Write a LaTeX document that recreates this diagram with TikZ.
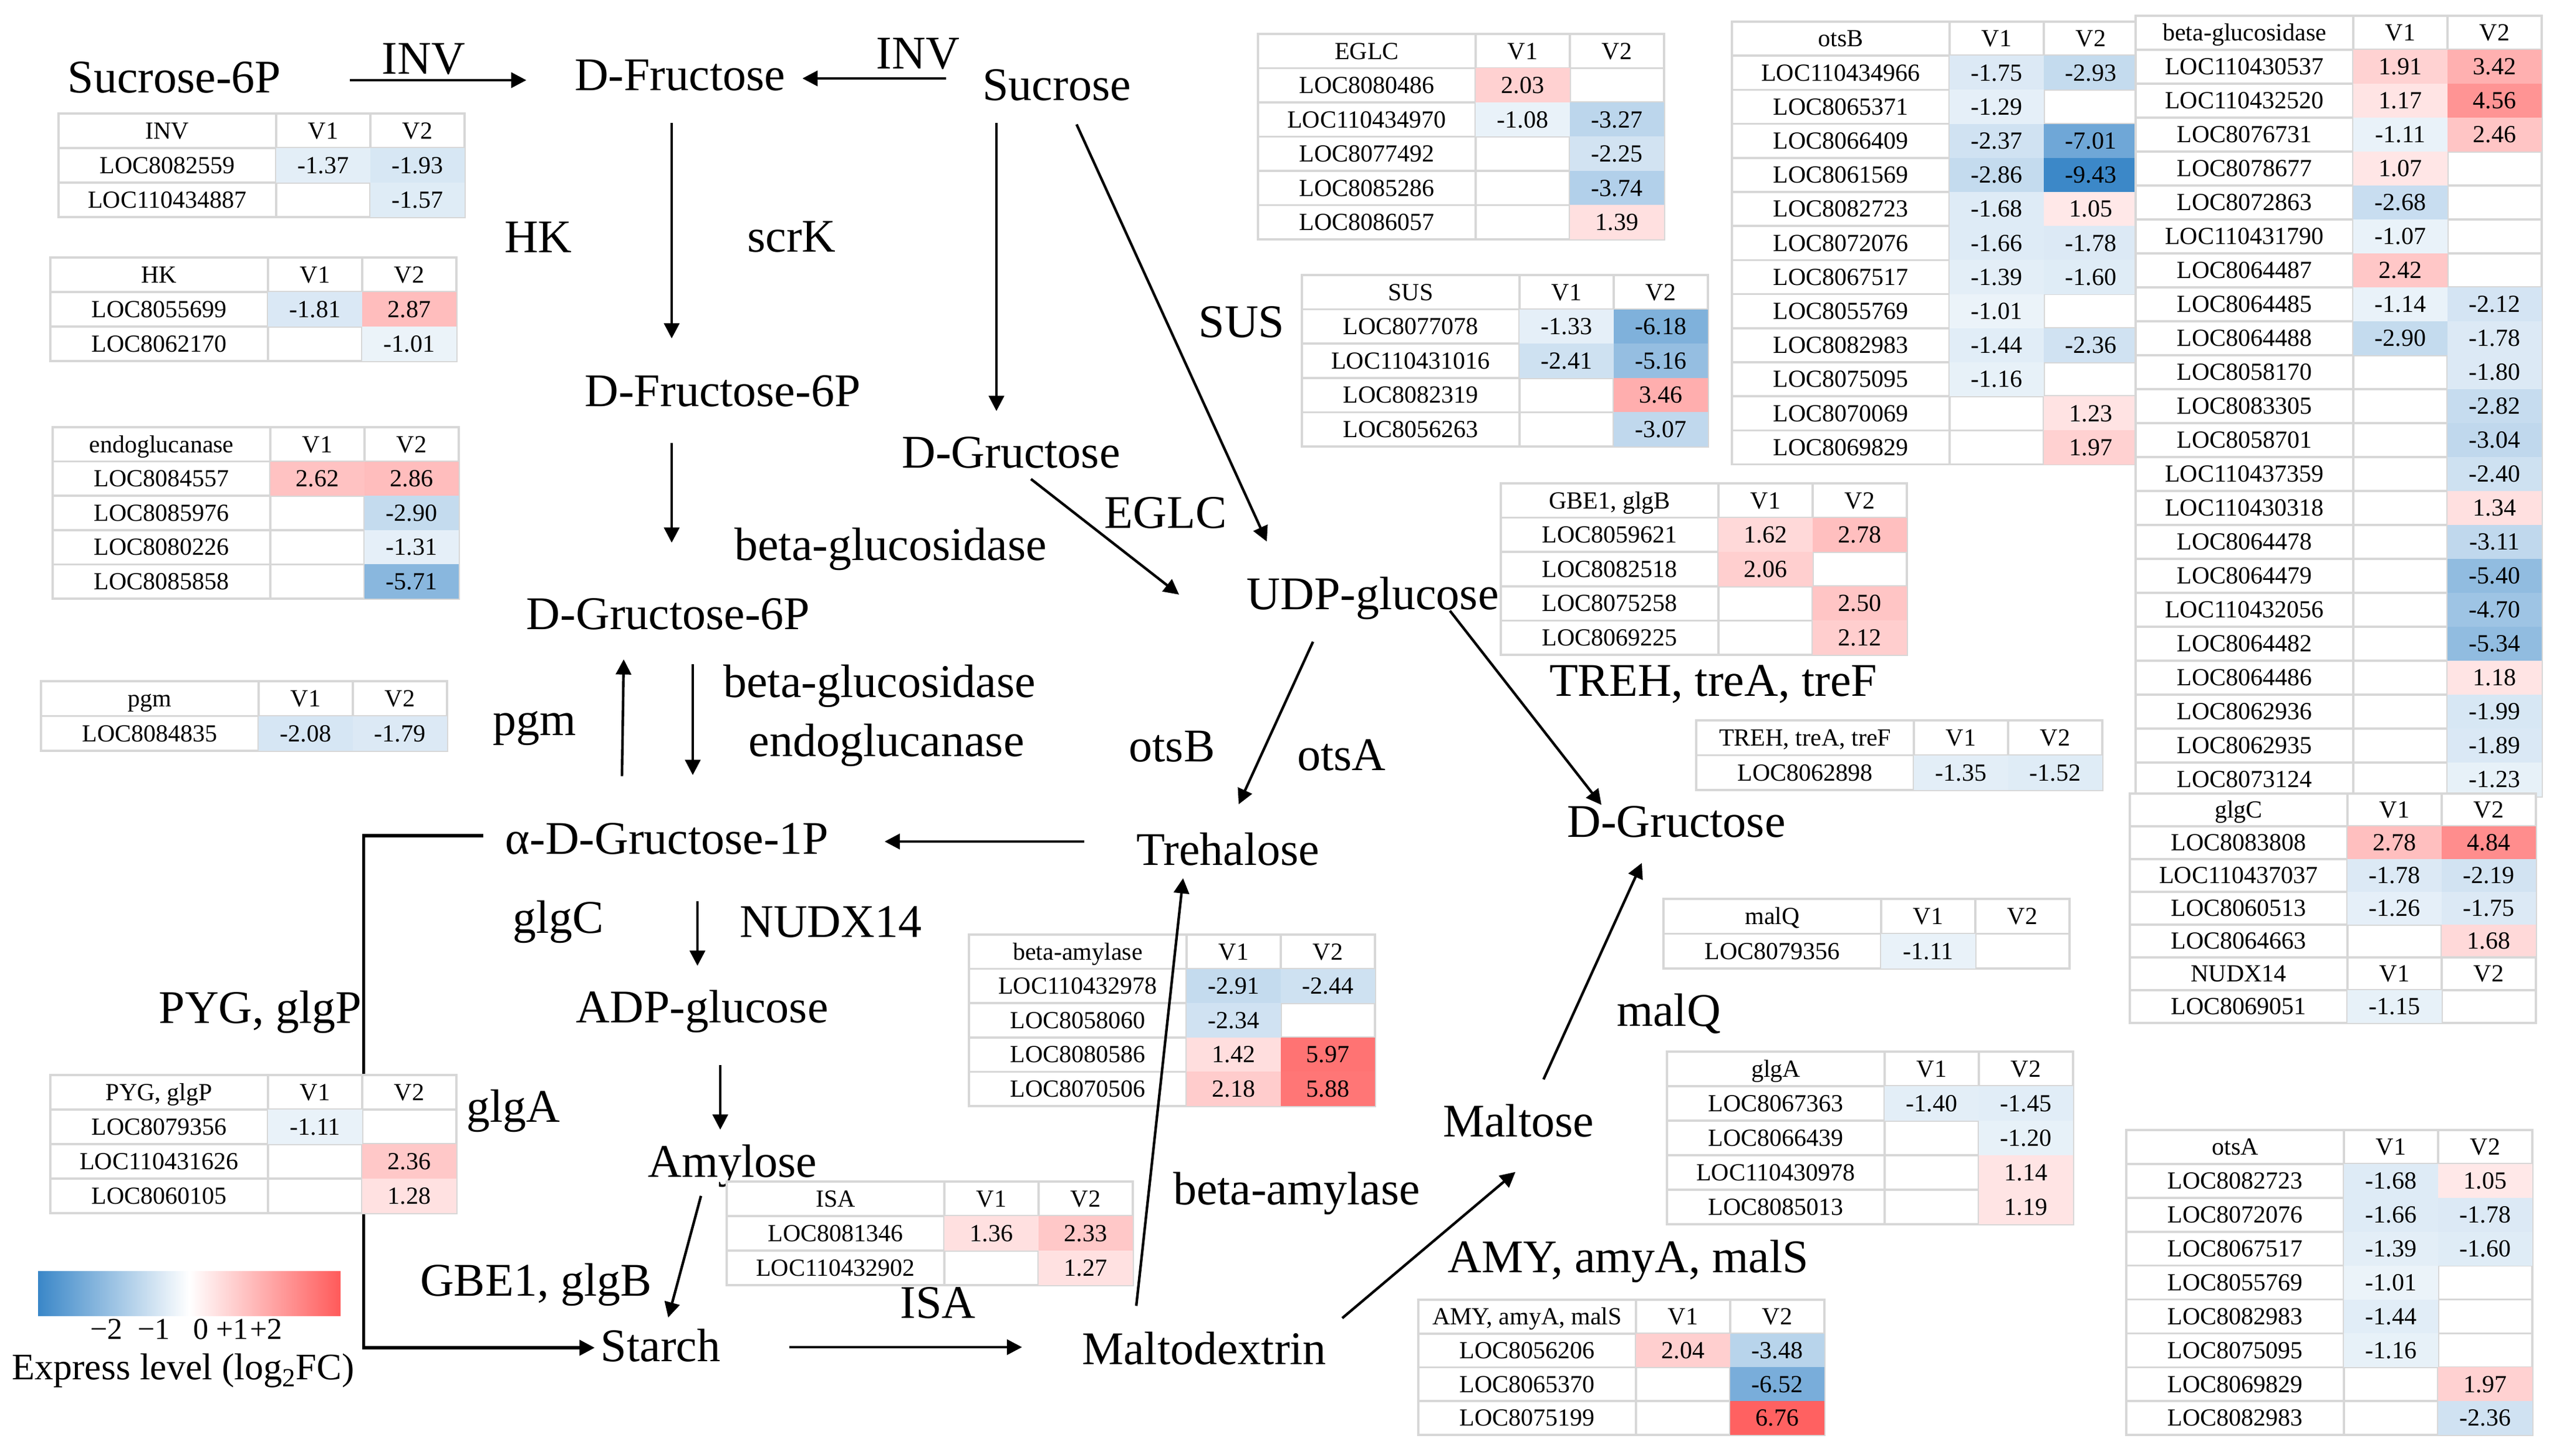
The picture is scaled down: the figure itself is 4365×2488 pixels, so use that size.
\documentclass[tikz,border=0pt]{standalone}
\usepackage{fontspec}
\setmainfont{Liberation Serif}
\usepackage{xcolor}
\definecolor{low_blue}{RGB}{58,135,200}
\definecolor{high_red}{RGB}{255,90,90}
\definecolor{grid_gray}{RGB}{215,215,215}
\usetikzlibrary{arrows.meta}

\tikzset{
  lbl/.style={font=\fontsize{40}{48}\selectfont, inner sep=0pt, text height=26.2pt, text depth=0pt},
  tabtxt/.style={font=\fontsize{21}{25}\selectfont, inner sep=0pt, text height=13.8pt, text depth=0pt},
  ticktxt/.style={font=\fontsize{26}{30}\selectfont, inner sep=0pt, text height=17pt, text depth=0pt},
  tabgrid/.style={draw=grid_gray, line width=1.8pt, fill=white},
  arr/.style={-{Triangle[length=13pt,width=13pt]}, line width=2.2pt},
}

% value cell: blue below zero, red above zero
\newcommand{\fillcell}[3]{%
  \expandafter\ifx\expandafter\relax#1\relax\else
    \pgfmathtruncatemacro\isneg{#1<0}%
    \ifnum\isneg=1
      \pgfmathtruncatemacro\pct{min(100,abs(#1)/9.5*100)}%
      \fill[low_blue!\pct!white] (#2,{#3}) rectangle ++(161,\rh);
    \else
      \pgfmathtruncatemacro\pct{min(100,abs(#1)/7*100)}%
      \fill[high_red!\pct!white] (#2,{#3}) rectangle ++(161,\rh);
    \fi
  \fi}

% #1 name, #2 x, #3 y of top left corner, #4 row height, #5 header, #6 gene/V1/V2 rows
\newcommand{\exprtable}[6]{%
\begin{scope}[shift={(#2,#3)}]
  \def\rh{#4}
  \draw[tabgrid] (0,0) rectangle (372,\rh) (372,0) rectangle (533,\rh) (533,0) rectangle (694,\rh);
  \node[tabtxt] (#1-h) at (186,{\rh/2}) {#5};
  \node[tabtxt] (#1-h1) at (452.5,{\rh/2}) {V1};
  \node[tabtxt] (#1-h2) at (613.5,{\rh/2}) {V2};
  \foreach \gene/\vone/\vtwo [count=\i] in {#6} {
    \draw[tabgrid] (0,{\i*\rh}) rectangle ++(372,\rh) (372,{\i*\rh}) rectangle ++(161,\rh) (533,{\i*\rh}) rectangle ++(161,\rh);
  }
  \foreach \gene/\vone/\vtwo [count=\i] in {#6} {
    \fillcell{\vone}{372}{\i*\rh}
    \fillcell{\vtwo}{533}{\i*\rh}
    \node[tabtxt] (#1-\i) at (186,{(\i+0.5)*\rh}) {\gene};
    \node[tabtxt] (#1-\i-a) at (452.5,{(\i+0.5)*\rh}) {\vone};
    \node[tabtxt] (#1-\i-b) at (613.5,{(\i+0.5)*\rh}) {\vtwo};
  }
\end{scope}}

\begin{document}
\begin{tikzpicture}[x=0.5pt, y=-0.5pt]
\fill[white] (0,0) rectangle (4365,2488);
\useasboundingbox (0,0) rectangle (4365,2488);

% metabolites
\node[lbl] (s6p) at (298,132) {Sucrose-6P};
\node[lbl] (dfru) at (1162,128) {D-Fructose};
\node[lbl] (sucr) at (1806,145) {Sucrose};
\node[lbl] (dfru6p) at (1235,668) {D-Fructose-6P};
\node[lbl] (dgru) at (1728,773) {D-Gructose};
\node[lbl] (dgru6p) at (1142,1049) {D-Gructose-6P};
\node[lbl] (udp) at (2346,1015) {UDP-glucose};
\node[lbl] (a1p) at (1140,1433) {α-D-Gructose-1P};
\node[lbl] (treh) at (2099,1452) {Trehalose};
\node[lbl] (dgrur) at (2865,1404) {D-Gructose};
\node[lbl] (adp) at (1200,1721) {ADP-glucose};
\node[lbl] (amyl) at (1252,1985) {Amylose};
\node[lbl] (starch) at (1129,2300) {Starch};
\node[lbl] (mdex) at (2058,2305) {Maltodextrin};
\node[lbl] (malt) at (2595,1916) {Maltose};

% enzymes
\node[lbl] (e-inv1) at (724,100) {INV};
\node[lbl] (e-inv2) at (1569,91) {INV};
\node[lbl] (e-hk) at (920,405) {HK};
\node[lbl] (e-scrk) at (1353,404) {scrK};
\node[lbl] (e-sus) at (2122,550) {SUS};
\node[lbl] (e-eglc) at (1992,876) {EGLC};
\node[lbl] (e-bglu1) at (1522,931) {beta-glucosidase};
\node[lbl] (e-pgm) at (914,1230) {pgm};
\node[lbl] (e-bglu2) at (1503,1165) {beta-glucosidase};
\node[lbl] (e-endo) at (1515,1266) {endoglucanase};
\node[lbl] (e-otsb) at (2003,1275) {otsB};
\node[lbl] (e-otsa) at (2293,1290) {otsA};
\node[lbl] (e-treh) at (2928,1163) {TREH, treA, treF};
\node[lbl] (e-glgc) at (954,1568) {glgC};
\node[lbl] (e-nudx) at (1420,1575) {NUDX14};
\node[lbl] (e-pyg) at (445,1722) {PYG, glgP};
\node[lbl] (e-glga) at (877,1891) {glgA};
\node[lbl] (e-malq) at (2852,1727) {malQ};
\node[lbl] (e-bamy) at (2216,2032) {beta-amylase};
\node[lbl] (e-isa) at (1603,2226) {ISA};
\node[lbl] (e-gbe) at (916,2188) {GBE1, glgB};
\node[lbl] (e-amy) at (2783,2148) {AMY, amyA, malS};

\draw[arr, line width=2.6pt] ([xshift=-18.5pt,yshift=2.5pt]a1p.west) -- ++(-205,0) |- ([xshift=-5pt,yshift=-1.5pt]starch.west);

% tables
\exprtable{tinv}{100}{194}{59}{INV}{LOC8082559/-1.37/-1.93, LOC110434887//-1.57}
\exprtable{thk}{86}{440}{59}{HK}{LOC8055699/-1.81/2.87, LOC8062170//-1.01}
\exprtable{tendo}{90}{730}{58.6}{endoglucanase}{LOC8084557/2.62/2.86, LOC8085976//-2.90, LOC8080226//-1.31, LOC8085858//-5.71}
\exprtable{tpgm}{70}{1164}{59.5}{pgm}{LOC8084835/-2.08/-1.79}
\exprtable{tpyg}{86}{1837}{59}{PYG, glgP}{LOC8079356/-1.11/, LOC110431626//2.36, LOC8060105//1.28}
\exprtable{teglc}{2150}{58}{58.5}{EGLC}{LOC8080486/2.03/, LOC110434970/-1.08/-3.27, LOC8077492//-2.25, LOC8085286//-3.74, LOC8086057//1.39}
\exprtable{tsus}{2225}{470}{58.6}{SUS}{LOC8077078/-1.33/-6.18, LOC110431016/-2.41/-5.16, LOC8082319//3.46, LOC8056263//-3.07}
\exprtable{totsb}{2960}{37}{58.2}{otsB}{LOC110434966/-1.75/-2.93, LOC8065371/-1.29/, LOC8066409/-2.37/-7.01, LOC8061569/-2.86/-9.43, LOC8082723/-1.68/1.05, LOC8072076/-1.66/-1.78, LOC8067517/-1.39/-1.60, LOC8055769/-1.01/, LOC8082983/-1.44/-2.36, LOC8075095/-1.16/, LOC8070069//1.23, LOC8069829//1.97}
\exprtable{tbglu}{3650}{27}{58}{beta-glucosidase}{LOC110430537/1.91/3.42, LOC110432520/1.17/4.56, LOC8076731/-1.11/2.46, LOC8078677/1.07/, LOC8072863/-2.68/, LOC110431790/-1.07/, LOC8064487/2.42/, LOC8064485/-1.14/-2.12, LOC8064488/-2.90/-1.78, LOC8058170//-1.80, LOC8083305//-2.82, LOC8058701//-3.04, LOC110437359//-2.40, LOC110430318//1.34, LOC8064478//-3.11, LOC8064479//-5.40, LOC110432056//-4.70, LOC8064482//-5.34, LOC8064486//1.18, LOC8062936//-1.99, LOC8062935//-1.89, LOC8073124//-1.23}
\exprtable{tglgc}{3640}{1356}{56}{glgC}{LOC8083808/2.78/4.84, LOC110437037/-1.78/-2.19, LOC8060513/-1.26/-1.75, LOC8064663//1.68}
\exprtable{tnudx}{3640}{1636}{56}{NUDX14}{LOC8069051/-1.15/}
\exprtable{totsa}{3634}{1931}{57.9}{otsA}{LOC8082723/-1.68/1.05, LOC8072076/-1.66/-1.78, LOC8067517/-1.39/-1.60, LOC8055769/-1.01/, LOC8082983/-1.44/, LOC8075095/-1.16/, LOC8069829//1.97, LOC8082983//-2.36}
\exprtable{tgbe}{2565}{826}{58.6}{GBE1, glgB}{LOC8059621/1.62/2.78, LOC8082518/2.06/, LOC8075258//2.50, LOC8069225//2.12}
\exprtable{ttreh}{2899}{1231}{59.5}{TREH, treA, treF}{LOC8062898/-1.35/-1.52}
\exprtable{tmalq}{2843}{1536}{59.5}{malQ}{LOC8079356/-1.11/}
\exprtable{tglga}{2849}{1797}{59}{glgA}{LOC8067363/-1.40/-1.45, LOC8066439//-1.20, LOC110430978//1.14, LOC8085013//1.19}
\exprtable{tbamy}{1656}{1597}{58.6}{beta-amylase}{LOC110432978/-2.91/-2.44, LOC8058060/-2.34/, LOC8080586/1.42/5.97, LOC8070506/2.18/5.88}
\exprtable{tisa}{1242}{2019}{59}{ISA}{LOC8081346/1.36/2.33, LOC110432902//1.27}
\exprtable{tamy}{2424}{2221}{57.7}{AMY, amyA, malS}{LOC8056206/2.04/-3.48, LOC8065370//-6.52, LOC8075199//6.76}

% reactions
\draw[arr] ([xshift=58.5pt,yshift=-2.5pt]s6p.east) -- ([xshift=-41pt,yshift=-4.5pt]dfru.west);
\draw[arr] ([xshift=-31pt,yshift=5.5pt]sucr.west) -- ([xshift=14.5pt,yshift=-3pt]dfru.east);
\draw[arr] ([xshift=-7pt,yshift=-27.5pt]dfru.south) -- ([xshift=-43.5pt,yshift=31.5pt]dfru6p.north);
\draw[arr] ([xshift=-51.5pt,yshift=-19pt]sucr.south) -- ([xshift=-12.5pt,yshift=22pt]dgru.north);
\draw[arr] ([xshift=17pt,yshift=-20.5pt]sucr.south) -- ([xshift=-90.5pt,yshift=31.5pt]udp.north);
\draw[arr] ([xshift=-43.5pt,yshift=-31pt]dfru6p.south) -- ([xshift=3pt,yshift=47.5pt]dgru6p.north);
\draw[arr] ([xshift=17pt,yshift=-9.5pt]dgru.south) -- ([xshift=-57.5pt,yshift=-0.5pt]udp.west);
\draw[arr] ([xshift=21pt,yshift=-29.5pt]dgru6p.south) -- ([xshift=22pt,yshift=41pt]a1p.north);
\draw[arr] ([xshift=-38.5pt,yshift=40pt]a1p.north) -- ([xshift=-38pt,yshift=-25.5pt]dgru6p.south);
\draw[arr] ([xshift=-51pt,yshift=-27.5pt]udp.south) -- ([xshift=9pt,yshift=25.5pt]treh.north);
\draw[arr] ([xshift=66pt,yshift=-1pt]udp.south) -- ([xshift=-64pt,yshift=1pt]dgrur.north);
\draw[arr] ([xshift=-44.5pt,yshift=7pt]treh.west) -- ([xshift=47.5pt,yshift=-2.5pt]a1p.east);
\draw[arr] ([xshift=26pt,yshift=-40pt]a1p.south) -- ([xshift=-4pt,yshift=22pt]adp.north);
\draw[arr] ([xshift=15.5pt,yshift=-36pt]adp.south) -- ([xshift=-10.5pt,yshift=14pt]amyl.north);
\draw[arr] ([xshift=-27pt,yshift=-16pt]amyl.south) -- ([xshift=6.5pt,yshift=11pt]starch.north);
\draw[arr] ([xshift=58.5pt,yshift=-1pt]starch.east) -- ([xshift=-51pt,yshift=1.5pt]mdex.west);
\draw[arr] ([xshift=-58pt,yshift=23.5pt]mdex.north) -- ([xshift=-38.5pt,yshift=-11pt]treh.south);
\draw[arr] ([xshift=118pt,yshift=13pt]mdex.north) -- ([xshift=-2.5pt,yshift=-30pt]malt.south);
\draw[arr] ([xshift=21.5pt,yshift=22.5pt]malt.north) -- ([xshift=-29.5pt,yshift=-22pt]dgrur.south);

% legend
\shade[left color=low_blue, right color=high_red, middle color=white] (65,2172) rectangle (582,2248);
\node[ticktxt] (lg-m2) at (182,2271) {−2};
\node[ticktxt] (lg-m1) at (263,2271) {−1};
\node[ticktxt] (lg-0) at (343,2271) {0};
\node[ticktxt] (lg-p1) at (397,2271) {+1};
\node[ticktxt] (lg-p2) at (455,2271) {+2};
\node[font=\fontsize{32}{38}\selectfont, inner sep=0pt, text height=21pt, text depth=0pt] (lg-title) at (313,2336) {Express level (log\textsubscript{2}FC)};

\end{tikzpicture}
\end{document}
